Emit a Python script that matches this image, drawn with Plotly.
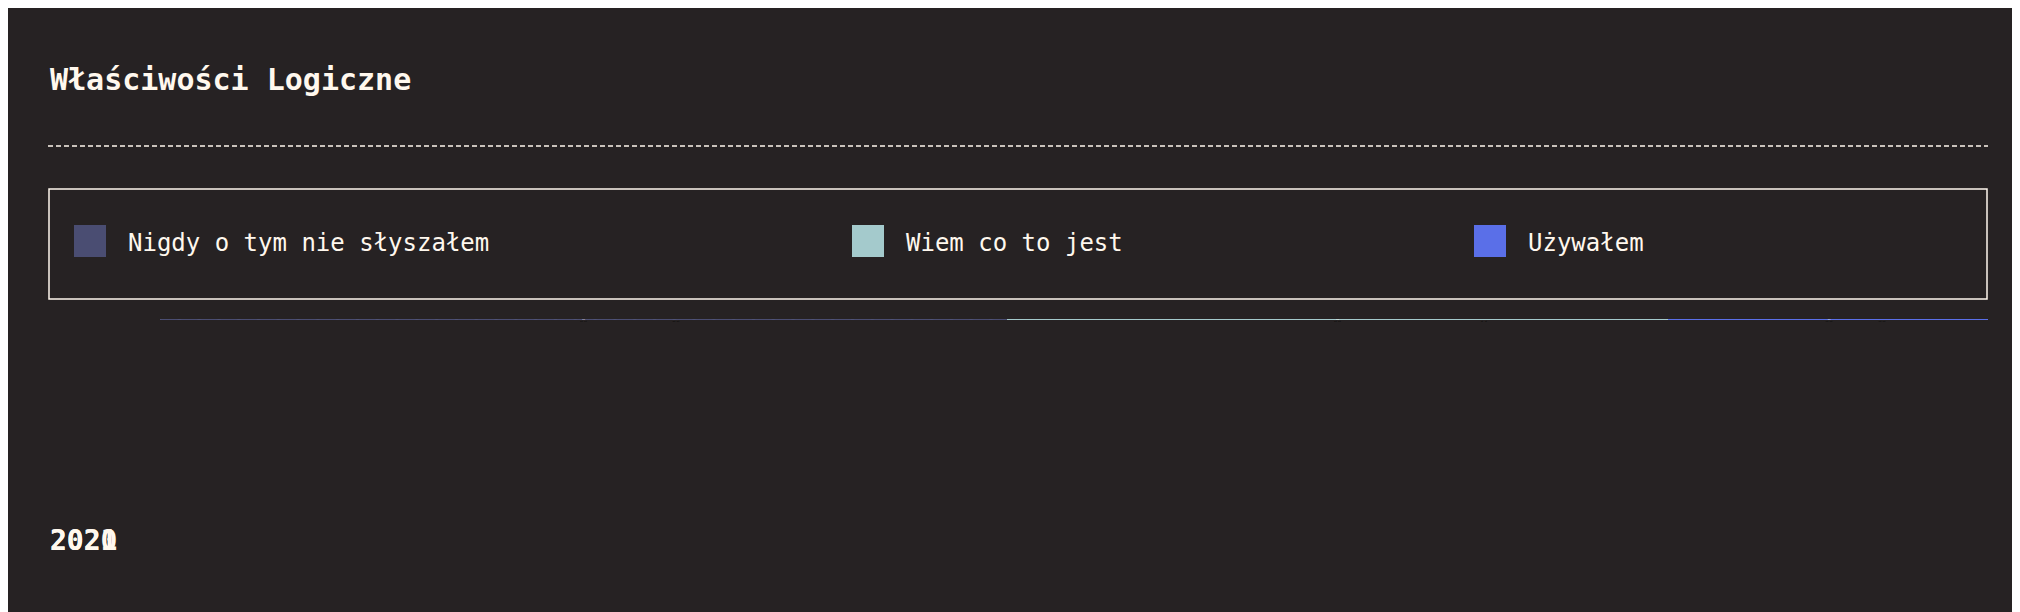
import plotly.graph_objects as go

years = ["2020", "2021"]
series = ["Nigdy o tym nie słyszałem", "Wiem co to jest", "Używałem"]
values = {
    "Nigdy o tym nie słyszałem": [56.5, 46.4],
    "Wiem co to jest": [32, 36.2],
    "Używałem": [11.6, 17.6],
}
colors = ["#4a4d72", "#a4cacc", "#5a6fe8"]

W, H = 2020, 612
L, R, T, B = 152, 40, 311, 61
pw, ph = W - L - R, H - T - B
def px(x): return (x - L) / pw
def py(y): return (H - B - y) / ph

FONT = "DejaVu Sans Mono"
fig = go.Figure()
for i, s in enumerate(series):
    marker = dict(color=colors[i], line=dict(width=0))
    if i == 0:
        marker["pattern"] = dict(shape="/", fgcolor="#565a7c", size=14, solidity=0.15)
    fig.add_trace(go.Bar(
        y=years, x=values[s], orientation="h", name=s, marker=marker,
        texttemplate="%{x}%", textposition="inside", insidetextanchor="middle",
        textfont=dict(family=FONT, size=22, color="#fff8ee", weight="bold",
                      shadow="2px 2px 0 #000, -2px -2px 0 #000, 2px -2px 0 #000, -2px 2px 0 #000"),
        width=0.525, showlegend=False, hoverinfo="skip"))

shapes = [
    dict(type="line", xref="paper", yref="paper", x0=px(40), x1=px(1980), y0=py(138), y1=py(138),
         line=dict(color="#fff8ee", width=1.5, dash="5px,3px")),
    dict(type="rect", xref="paper", yref="paper", x0=px(41), x1=px(1979), y0=py(181), y1=py(291),
         line=dict(color="#fff8ee", width=1.5)),
]
annotations = [dict(text="<b>Właściwości Logiczne</b>", xref="paper", yref="paper", x=px(40), y=py(71),
                    xanchor="left", yanchor="middle", showarrow=False,
                    font=dict(family=FONT, size=30, color="#fff8ee"))]
leg_x = [66, 844, 1466]
for i, s in enumerate(series):
    shapes.append(dict(type="rect", xref="paper", yref="paper", x0=px(leg_x[i]), x1=px(leg_x[i] + 32),
                       y0=py(217), y1=py(249), fillcolor=colors[i], line=dict(width=0)))
    annotations.append(dict(text=s, xref="paper", yref="paper", x=px(leg_x[i] + 52), y=py(235),
                            xanchor="left", yanchor="middle", showarrow=False,
                            font=dict(family=FONT, size=24, color="#fff8ee")))
for y in years:
    annotations.append(dict(text=f"<b>{y}</b>", xref="paper", yref="y", x=px(40), y=y,
                            xanchor="left", yanchor="middle", showarrow=False,
                            font=dict(family=FONT, size=28, color="#fff8ee")))

fig.update_layout(
    width=W, height=H, barmode="stack", bargap=0,
    margin=dict(l=L, r=R, t=T, b=B),
    paper_bgcolor="#262223", plot_bgcolor="#262223",
    xaxis=dict(range=[0, 100.1], visible=False),
    yaxis=dict(type="category", categoryorder="array", categoryarray=years, autorange="reversed",
               showticklabels=False, showgrid=False, zeroline=False),
    shapes=shapes, annotations=annotations, showlegend=False,
)
fig.write_html("out.html")
